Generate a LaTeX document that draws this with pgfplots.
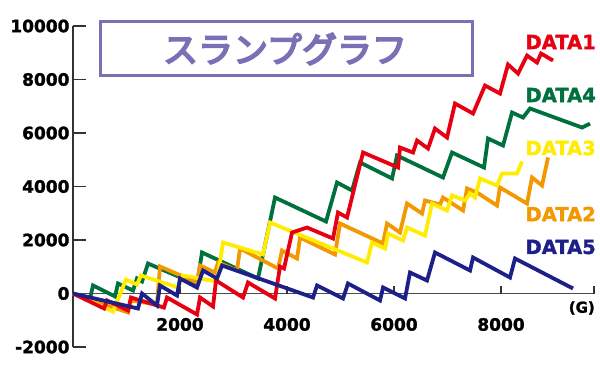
\documentclass[border=0pt]{standalone}
\usepackage{pgfplots}
\pgfplotsset{compat=1.18}
\usepackage{fontspec}
\setmainfont{DejaVu Sans}[BoldFeatures={FakeBold=1.5}]
\newfontfamily\cjk{Noto Sans CJK JP}[FakeBold=5]
\definecolor{dred}{RGB}{230,0,18}
\definecolor{dgreen}{RGB}{0,112,60}
\definecolor{dyellow}{RGB}{255,236,0}
\definecolor{dorange}{RGB}{243,152,0}
\definecolor{dnavy}{RGB}{29,32,136}
\definecolor{tpurple}{RGB}{122,112,182}
\begin{document}
\begin{tikzpicture}
\path[use as bounding box] (-73bp,-23bp) rectangle (527bp,347bp);
\begin{axis}[
  at={(0,0)}, anchor=south west, scale only axis,
  width=521bp, height=321bp,
  xmin=0, xmax=9738, ymin=-2000, ymax=10000,
  axis x line=middle, axis y line=left,
  axis line style={-},
  x axis line style={draw=black!70, line width=1.2bp},
  y axis line style={draw=black!80, line width=1.4bp},
  hide obscured x ticks=false, hide obscured y ticks=false,
  scaled x ticks=false, scaled y ticks=false,
  ytick={-2000,0,2000,4000,6000,8000,10000},
  yticklabels={-2000,0,2000,4000,6000,8000,10000},
  major tick length=13bp, tick align=inside,
  tick style={black!80, line width=1.2bp},
  xtick=\empty,
  extra x ticks={2000,4000,6000,8000,9738},
  extra x tick labels={2000,4000,6000,8000,{}},
  extra x tick style={major tick length=7bp, tick align=inside,
    xticklabel style={yshift=-21bp}},
  ticklabel style={font=\bfseries\fontsize{17bp}{17bp}\selectfont},
  clip=false,
]
\addplot[draw=dgreen, line width=3.8bp, no marks] coordinates {
(0,0) (318,-187) (374,299) (785,-112) (841,374) (1122,112) (1196,561) (1290,449) (1402,1121)
(2318,336) (2411,1533) (3458,561) (3776,3588) (4729,2691) (4935,4149) (5215,3850) (5365,4897)
(5963,4299) (6056,5158) (6916,4336) (7084,5271) (7682,4710) (7757,5794) (8038,5532) (8206,6766)
(8411,6579) (8542,6915) (9514,6205) (9664,6350)};
\addplot[draw=dorange, line width=3.8bp, no marks] coordinates {
(0,0) (1028,-710) (1084,-262) (1570,-411) (1626,1009) (2318,411) (2374,1047) (2654,785) (2710,1159)
(3065,860) (3122,1682) (3832,935) (3907,1607) (4187,1308) (4243,2093) (4897,1458) (4991,2617)
(5795,1869) (5869,2617) (6112,2280) (6243,3364) (6524,2990) (6580,3476) (6860,3327) (6916,3588)
(7290,3103) (7365,3925) (7552,3775) (7925,3289) (7981,3962) (8486,3364) (8580,4336) (8767,4037) (8879,5084)};
\addplot[draw=dyellow, line width=3.8bp, no marks] coordinates {
(0,0) (748,-673) (991,523) (1196,336) (1271,673) (1963,224) (2056,673) (2692,449) (2804,1906)
(3551,1458) (3682,2654) (5495,1159) (5589,1906) (5832,1682) (5888,2243) (6168,1981) (6243,2467)
(6580,2168) (6710,3364) (6991,3103) (7084,3663) (7327,3476) (7421,3738) (7514,3588) (7608,4299)
(7925,4037) (8019,4486) (8299,4486) (8393,4934)};
\addplot[draw=dred, line width=3.8bp, no marks] coordinates {
(0,0) (580,-560) (636,-260) (1028,-635) (1084,-150) (1700,-525) (1757,-150) (2318,-785) (2374,-150)
(2617,-486) (2673,486) (3178,-150) (3271,411) (3776,-187) (3869,1009) (3944,935) (4094,2280)
(4374,2467) (4860,2056) (4953,3028) (5122,2841) (5421,5271) (6075,4710) (6112,5457) (6355,5271)
(6430,5719) (6636,5420) (6766,6168) (6991,5831) (7140,7102) (7477,6728) (7701,7775) (7981,7476)
(8131,8560) (8318,8224) (8486,8896) (8673,8635) (8748,8971) (8972,8710)};
\addplot[draw=dnavy, line width=3.8bp, no marks] coordinates {
(0,0) (1215,-561) (1290,0) (1570,-449) (1626,299) (1944,-75) (2000,561) (2318,224) (2430,860)
(2692,561) (2785,1047) (4486,-150) (4561,299) (5047,-187) (5140,374) (5738,-262) (5795,224)
(6206,-187) (6299,785) (6617,486) (6766,1533) (7421,860) (7477,1346) (8168,598) (8262,1308) (9346,187)};
\end{axis}
\draw[draw=tpurple, line width=3bp] (27bp,271bp) rectangle (399bp,325bp);
\node[text=tpurple, font=\cjk\fontsize{35bp}{35bp}\selectfont, inner sep=0pt] at (212bp,298bp) {スランプグラフ};
\begin{scope}[every node/.style={anchor=east, inner sep=0pt, font=\bfseries\fontsize{19.5bp}{19.5bp}\selectfont}]
\node[text=dred] at (523bp,305bp) {DATA1};
\node[text=dgreen] at (523bp,252bp) {DATA4};
\node[text=dyellow] at (523bp,199bp) {DATA3};
\node[text=dorange] at (523bp,133bp) {DATA2};
\node[text=dnavy] at (523bp,100bp) {DATA5};
\end{scope}
\node[anchor=east, inner sep=0pt, font=\bfseries\fontsize{15bp}{15bp}\selectfont] at (522bp,39bp) {(G)};
\end{tikzpicture}
\end{document}
